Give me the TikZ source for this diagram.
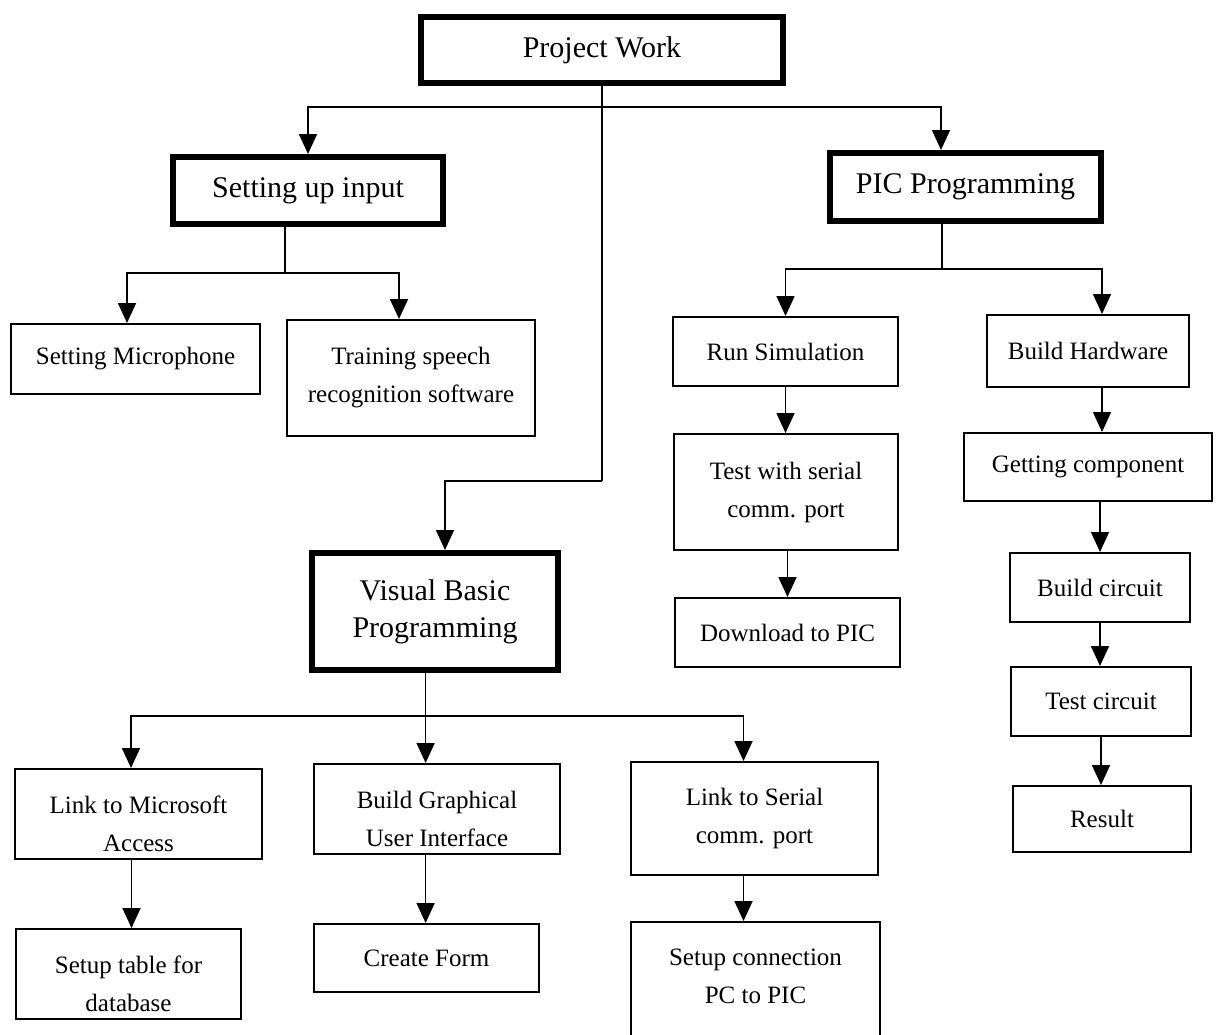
\documentclass[tikz,border=0pt]{standalone}
\usepackage{fontspec}
\setmainfont{Liberation Serif}
\usetikzlibrary{arrows.meta}
\begin{document}
\begin{tikzpicture}[x=1pt,y=-1pt,
  smallbox/.style={draw, line width=2pt, inner sep=0pt, align=center,
    font=\fontsize{25}{38}\selectfont},
  mainbox/.style={draw, line width=6pt, inner sep=0pt, align=center,
    font=\fontsize{30}{37}\selectfont},
  lbl/.style={inner sep=0pt, align=center, font=\fontsize{25}{38}\selectfont},
  wire/.style={line width=1.7pt},
  arr/.style={wire, -{Triangle[length=20pt,width=18pt]}}]

\clip (0,0) rectangle (1222,1034);
\fill[white] (0,0) rectangle (1222,1034);

% main tasks
\node[mainbox, minimum width=362pt, minimum height=66pt] (pw) at (602,50) {Project Work};
\node[mainbox, minimum width=270pt, minimum height=67pt] (sui) at (308,190.5) {Setting up input};
\node[mainbox, minimum width=271pt, minimum height=68pt] (pic) at (965.5,187) {PIC Programming};
\node[mainbox, minimum width=246pt, minimum height=117pt] (vb) at (435,611.5) {Visual Basic\\Programming};

% input set-up
\node[smallbox, minimum width=249pt, minimum height=70pt] (mic) at (135.5,359) {Setting Microphone};
\node[smallbox, minimum width=248pt, minimum height=116pt] (trn) at (411,378) {Training speech\\recognition software};

% PIC programming
\node[smallbox, minimum width=225pt, minimum height=69pt] (sim) at (785.5,351.5) {Run Simulation};
\node[smallbox, minimum width=224pt, minimum height=116pt] (tst) at (786,492) {Test with serial\\comm. port};
\node[smallbox, minimum width=225pt, minimum height=69pt] (dl) at (787.5,632.5) {Download to PIC};
\node[smallbox, minimum width=202pt, minimum height=72pt] (hw) at (1088,351) {Build Hardware};
\node[smallbox, minimum width=248pt, minimum height=68pt] (get) at (1088,467) {Getting component};
\node[smallbox, minimum width=180pt, minimum height=69pt] (bc) at (1100,587.5) {Build circuit};
\node[smallbox, minimum width=180pt, minimum height=69pt] (tc) at (1101,701.5) {Test circuit};
\node[smallbox, minimum width=178pt, minimum height=66pt] (res) at (1102,819) {Result};

% Visual Basic programming
\node[smallbox, minimum width=247pt, minimum height=90pt] (acc) at (138.5,814) {};
\node[lbl] (acc-t) at ([yshift=-10pt]acc.center) {Link to Microsoft\\Access};
\node[smallbox, minimum width=225pt, minimum height=90pt] (tab) at (128.5,974) {};
\node[lbl] (tab-t) at ([yshift=-10pt]tab.center) {Setup table for\\database};
\node[smallbox, minimum width=246pt, minimum height=90pt] (gui) at (437,809) {};
\node[lbl] (gui-t) at ([yshift=-10pt]gui.center) {Build Graphical\\User Interface};
\node[smallbox, minimum width=225pt, minimum height=68pt] (frm) at (426.5,958) {Create Form};
\node[smallbox, minimum width=247pt, minimum height=113pt] (ser) at (754.5,818.5) {Link to Serial\\comm. port};
\node[smallbox, minimum width=249pt, minimum height=137pt] (con) at (755.5,990.5) {};
\node[lbl] (con-t) at ([yshift=14.5pt]con.center) {Setup connection\\PC to PIC};

% connectors from the top box
\coordinate (pwbus) at (602,107);
\coordinate (pwturn) at (602,481);
\coordinate (vbin) at ([xshift=10pt]vb.north);
\coordinate (picin) at ([xshift=-24.5pt]pic.north);
\draw[wire] (pw.south) -- (pwturn);
\draw[arr] (pwturn) -| (vbin);
\draw[arr] (pwbus) -| (sui.north);
\draw[arr] (pwbus) -| (picin);

% setting up input
\coordinate (suibus) at (285,273);
\coordinate (micin) at ([xshift=-8.5pt]mic.north);
\coordinate (trnin) at ([xshift=-12pt]trn.north);
\draw[wire] (suibus |- sui.south) -- (suibus);
\draw[arr] (suibus) -| (micin);
\draw[arr] (suibus) -| (trnin);

% PIC programming
\coordinate (picbus) at (942,269);
\coordinate (hwin) at ([xshift=14pt]hw.north);
\coordinate (hwout) at ([xshift=14pt]hw.south);
\draw[wire] (picbus |- pic.south) -- (picbus);
\draw[arr] (picbus) -| (sim.north);
\draw[arr] (picbus) -| (hwin);
\draw[arr] (sim.south) -- (sim.south |- tst.north);
\draw[arr] (dl.north |- tst.south) -- (dl.north);
\draw[arr] (hwout) -- (hwout |- get.north);
\draw[arr] (bc.north |- get.south) -- (bc.north);
\draw[arr] (bc.south) -- (bc.south |- tc.north);
\draw[arr] (tc.south) -- (tc.south |- res.north);

% Visual Basic programming
\coordinate (vbbus) at (425.6,716);
\coordinate (accin) at ([xshift=-7.5pt]acc.north);
\coordinate (accout) at ([xshift=-7pt]acc.south);
\coordinate (serin) at ([xshift=-11pt]ser.north);
\coordinate (serout) at ([xshift=-11pt]ser.south);
\draw[wire] (vbbus |- vb.south) -- (vbbus);
\draw[arr] (vbbus) -| (accin);
\draw[arr] (vbbus) -- (vbbus |- gui.north);
\draw[arr] (vbbus) -| (serin);
\draw[arr] (accout) -- (accout |- tab.north);
\draw[arr] (vbbus |- gui.south) -- (vbbus |- frm.north);
\draw[arr] (serout) -- (serout |- con.north);
\end{tikzpicture}
\end{document}
